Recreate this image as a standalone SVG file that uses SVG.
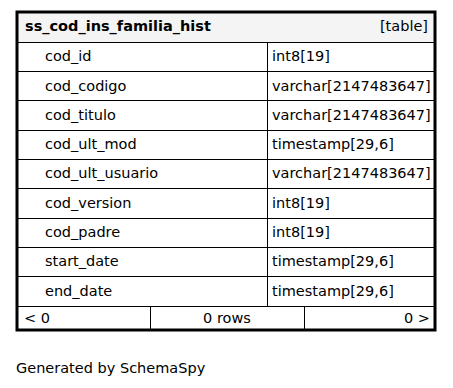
<svg xmlns="http://www.w3.org/2000/svg" width="453" height="388" viewBox="0 0 453 388">
<style>
text{font-family:"DejaVu Sans",sans-serif;font-size:14.5px;fill:#000}
.b{font-weight:bold}
.l{stroke:#000;stroke-width:1;fill:none}
</style>
<rect width="453" height="388" fill="#fff"/>
<g id="table_ss_cod_ins_familia_hist">
<rect x="17" y="12" width="418" height="318" fill="#fff"/>
<rect x="18" y="13" width="416" height="29" fill="#f4f4f4"/>
<text class="b" x="25" y="31">ss_cod_ins_familia_hist</text>
<text x="428" y="31" text-anchor="end">[table]</text>
<g class="l">
<path d="M18 42.5H434M18 71.5H434M18 100.5H434M18 130.5H434M18 159.5H434M18 188.5H434M18 218.5H434M18 247.5H434M18 276.5H434M18 306.5H434"/>
<path d="M267.5 42V306.5M150.5 306.5V329M304.5 306.5V329"/>
</g>
<g id="cols">
<text x="45" y="61">cod_id</text><text x="272" y="61">int8[19]</text>
<text x="45" y="91">cod_codigo</text><text x="272" y="91">varchar[2147483647]</text>
<text x="45" y="120">cod_titulo</text><text x="272" y="120">varchar[2147483647]</text>
<text x="45" y="149">cod_ult_mod</text><text x="272" y="149">timestamp[29,6]</text>
<text x="45" y="178">cod_ult_usuario</text><text x="272" y="178">varchar[2147483647]</text>
<text x="45" y="208">cod_version</text><text x="272" y="208">int8[19]</text>
<text x="45" y="237">cod_padre</text><text x="272" y="237">int8[19]</text>
<text x="45" y="266">start_date</text><text x="272" y="266">timestamp[29,6]</text>
<text x="45" y="296">end_date</text><text x="272" y="296">timestamp[29,6]</text>
</g>
<text x="24" y="323">&lt; 0</text>
<text x="227" y="323" text-anchor="middle">0 rows</text>
<text x="430" y="323" text-anchor="end">0 &gt;</text>
<rect x="17" y="12" width="418" height="318" fill="none" stroke="#000" stroke-width="3"/>
</g>
<g id="connectors"/>
<text x="16" y="373">Generated by SchemaSpy</text>
</svg>
